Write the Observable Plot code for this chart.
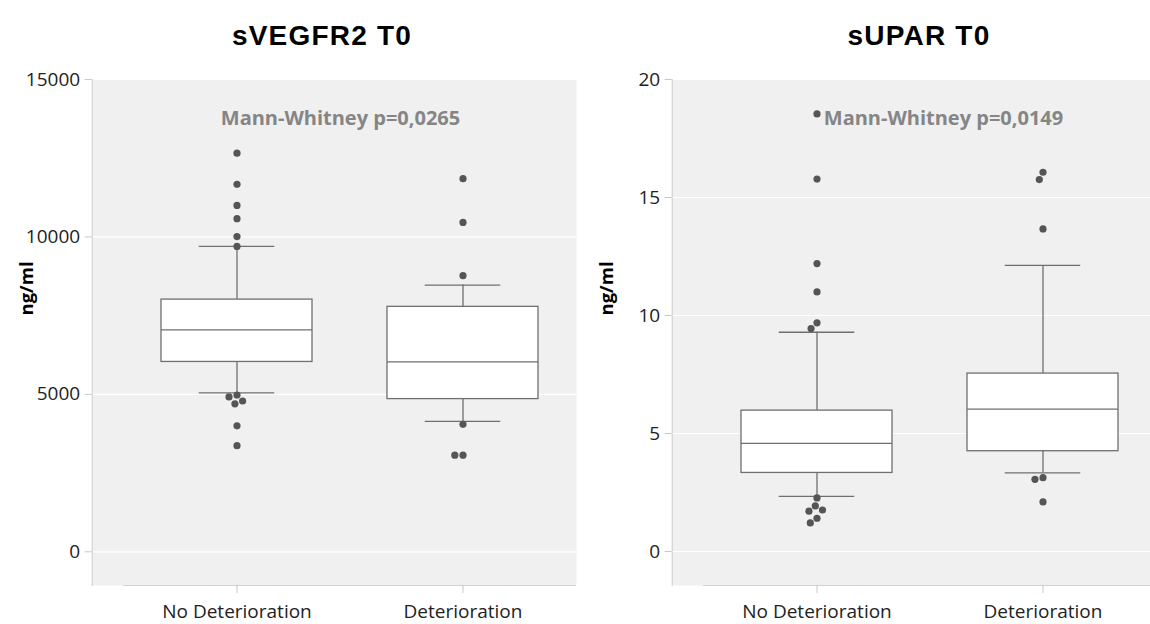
<!DOCTYPE html>
<html>
<head>
<meta charset="utf-8">
<script src="https://cdn.jsdelivr.net/npm/d3@7"></script>
<script src="https://cdn.jsdelivr.net/npm/@observablehq/plot@0.6"></script>
<style>
  html, body { margin: 0; padding: 0; background: #fff; width: 1150px; height: 624px; overflow: hidden; }
  #root { position: relative; width: 1150px; height: 624px; overflow: hidden; }
  .panel { position: absolute; top: 0; height: 624px; }
  .layer { position: absolute; left: 0; top: 0; }
  .title { position: absolute; top: 20px; line-height: 28px; font: bold 28px "Liberation Sans", Arial, sans-serif;
           letter-spacing: 1.2px; transform: translateX(-50%); white-space: nowrap; color: #000; }
</style>
</head>
<body>
<div id="root"></div>
<script>
// ---------- data ----------
const categories = ["No Deterioration", "Deterioration"];
const yLabel = "ng/ml";

// Panel 1: sVEGFR2 T0
const vegfrTitle = "sVEGFR2 T0";
const vegfrNote = "Mann-Whitney p=0,0265";
const vegfrTicks = [0, 5000, 10000, 15000];
const vegfrDomain = [-1070, 15000];
const vegfrLow    = [5050, 4140];
const vegfrQ1     = [6030, 4850];
const vegfrMedian = [7050, 6030];
const vegfrQ3     = [8010, 7780];
const vegfrHigh   = [9700, 8470];
const vegfrOutNoDet = [12660, 11670, 11000, 10580, 10010, 9700, 4980, 4920, 4790, 4700, 4000, 3370];
const vegfrOutDet   = [11850, 10460, 8770, 4050, 3070, 3070];

// Panel 2: sUPAR T0
const uparTitle = "sUPAR T0";
const uparNote = "Mann-Whitney p=0,0149";
const uparTicks = [0, 5, 10, 15, 20];
const uparDomain = [-1.44, 20];
const uparLow    = [2.34, 3.33];
const uparQ1     = [3.33, 4.25];
const uparMedian = [4.58, 6.03];
const uparQ3     = [5.97, 7.54];
const uparHigh   = [9.29, 12.12];
const uparOutNoDet = [18.54, 15.78, 12.2, 11.0, 9.69, 9.45, 2.27, 1.93, 1.76, 1.71, 1.41, 1.21];
const uparOutDet   = [16.07, 15.76, 13.67, 3.13, 3.06, 2.10];

// ---------- drawing ----------
const FONT = "'Open Sans', sans-serif";
const BOX = "#6f6f6f";
const AX = 31.3; // y-axis offset left of the x range (SPSS style)

function stats(low, q1, med, q3, high) {
  return categories.map((c, i) => ({group: c, lo: low[i], q1: q1[i], med: med[i], q3: q3[i], hi: high[i]}));
}
function outliers(a, b) {
  return [...a.map(v => ({group: categories[0], value: v})), ...b.map(v => ({group: categories[1], value: v}))];
}

function panel(left, width, marginRight, cfg) {
  const div = document.createElement("div");
  div.className = "panel";
  div.style.left = left + "px";
  div.style.width = width + "px";
  document.getElementById("root").appendChild(div);

  const common = {
    width, height: 624, marginTop: 79, marginBottom: 39, marginLeft: 123, marginRight
  };

  const base = Plot.plot({
    ...common,
    style: {background: "transparent", fontFamily: FONT, overflow: "visible"},
    x: {domain: categories, paddingInner: 1/3, paddingOuter: 1/6, axis: null},
    y: {domain: cfg.domain, axis: null},
    marks: [
      Plot.frame({fill: "#f0f0f0", stroke: null, insetLeft: -AX}),
      Plot.ruleY(cfg.ticks, {stroke: "#ffffff", strokeWidth: 1.2, insetLeft: -AX}),
      Plot.frame({anchor: "left", stroke: "#cccccc", insetLeft: -AX}),
      Plot.ruleY([cfg.domain[0]], {stroke: "#d2d2d2", strokeWidth: 1.2}),
      Plot.axisY(cfg.ticks, {dx: -AX, tickSize: 7, tickPadding: 5, fontSize: 19, stroke: "#c8c8c8", fill: "#222",
                             label: null, tickFormat: d3.format("d")}),
      Plot.axisX({tickSize: 8, tickPadding: 11, fontSize: 19, stroke: "#c8c8c8", fill: "#222", label: null}),
      Plot.ruleX(cfg.stats, {x: "group", y1: "q3", y2: "hi", stroke: BOX, strokeWidth: 1.3}),
      Plot.ruleX(cfg.stats, {x: "group", y1: "lo", y2: "q1", stroke: BOX, strokeWidth: 1.3}),
      Plot.tickY(cfg.stats, {x: "group", y: "hi", insetLeft: 37.75, insetRight: 37.75, stroke: BOX, strokeWidth: 1.3}),
      Plot.tickY(cfg.stats, {x: "group", y: "lo", insetLeft: 37.75, insetRight: 37.75, stroke: BOX, strokeWidth: 1.3}),
      Plot.barY(cfg.stats, {x: "group", y1: "q1", y2: "q3", fill: "#ffffff", stroke: BOX, strokeWidth: 1.3}),
      Plot.tickY(cfg.stats, {x: "group", y: "med", stroke: BOX, strokeWidth: 1.3}),
      Plot.text([cfg.note], {frameAnchor: "top", dy: 31.7, dx: cfg.noteDx, fill: "#858585", fontWeight: "bold",
                             fontSize: 20, fontFamily: FONT}),
      Plot.text([yLabel], {frameAnchor: "left", rotate: -90, dx: -96, dy: -17, fill: "#000", fontWeight: "bold",
                           fontSize: 18.5, fontFamily: FONT})
    ]
  });
  base.classList.add("layer");
  div.appendChild(base);

  const dots = Plot.plot({
    ...common,
    style: {background: "transparent", overflow: "visible"},
    fx: {domain: categories, paddingInner: 1/3, paddingOuter: 1/6, axis: null, label: null},
    y: {domain: cfg.domain, axis: null},
    marks: [
      Plot.dot(cfg.out, Plot.dodgeX("middle", {fx: "group", y: "value", r: 3.6, padding: 5, fill: "#555", stroke: null}))
    ]
  });
  dots.classList.add("layer");
  div.appendChild(dots);

  const t = document.createElement("div");
  t.className = "title";
  t.style.left = cfg.titleX + "px";
  t.textContent = cfg.title;
  document.getElementById("root").appendChild(t);
}

panel(0, 580, 4, {
  title: vegfrTitle, titleX: 322, note: vegfrNote, noteDx: -9.5,
  ticks: vegfrTicks, domain: vegfrDomain,
  stats: stats(vegfrLow, vegfrQ1, vegfrMedian, vegfrQ3, vegfrHigh),
  out: outliers(vegfrOutNoDet, vegfrOutDet)
});
panel(580, 575, 0, {
  title: uparTitle, titleX: 919, note: uparNote, noteDx: 14,
  ticks: uparTicks, domain: uparDomain,
  stats: stats(uparLow, uparQ1, uparMedian, uparQ3, uparHigh),
  out: outliers(uparOutNoDet, uparOutDet)
});
</script>
</body>
</html>
